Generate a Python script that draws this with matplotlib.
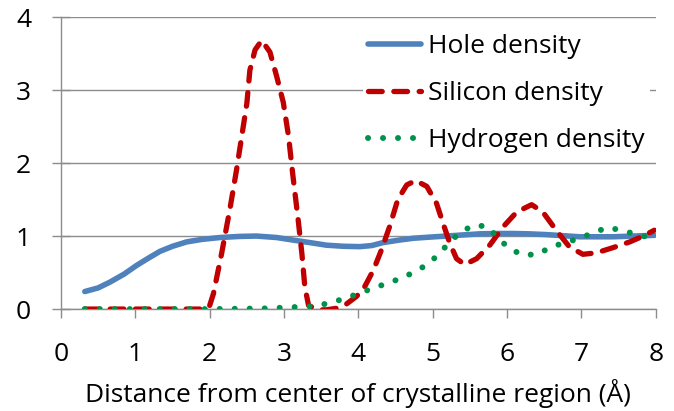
import matplotlib
matplotlib.use('Agg')
import matplotlib.pyplot as plt

# valeurs (courbes lissees d'Excel, points relevés assez serrés)
hole_x = [0.32, 0.5, 0.66, 0.85, 1.02, 1.18, 1.33, 1.5, 1.69, 1.9, 2.14, 2.4, 2.63, 2.9,
          3.12, 3.35, 3.57, 3.8, 4.02, 4.18, 4.33, 4.55, 4.74, 4.95, 5.18, 5.4, 5.63,
          5.85, 6.08, 6.3, 6.53, 6.75, 6.98, 7.2, 7.42, 7.7, 7.98]
hole_y = [0.24, 0.29, 0.37, 0.48, 0.60, 0.70, 0.79, 0.86, 0.92, 0.955, 0.98, 0.995, 1.0,
          0.98, 0.945, 0.91, 0.875, 0.86, 0.855, 0.87, 0.91, 0.945, 0.97, 0.985, 1.0,
          1.015, 1.03, 1.035, 1.035, 1.03, 1.02, 1.005, 0.99, 0.99, 0.99, 1.0, 1.01]

silicon_x = [0.32, 0.8, 1.3, 1.7, 1.96, 2.0, 2.05, 2.16, 2.27, 2.36, 2.43, 2.5, 2.54,
             2.61, 2.70, 2.81, 2.90, 2.99, 3.06, 3.12, 3.19, 3.24, 3.28, 3.33, 3.45,
             3.57, 3.70, 3.84, 3.97, 4.06, 4.20, 4.31, 4.42, 4.53, 4.65, 4.77, 4.92,
             5.05, 5.14, 5.23, 5.32, 5.43, 5.59, 5.77, 5.95, 6.13, 6.33, 6.48, 6.66,
             6.84, 7.02, 7.20, 7.42, 7.65, 7.83, 7.98]
silicon_y = [0.0, 0.0, 0.0, 0.0, 0.0, 0.05, 0.21, 0.76, 1.36, 1.90, 2.36, 2.82, 3.27,
             3.55, 3.68, 3.52, 3.19, 2.83, 2.37, 1.82, 1.22, 0.76, 0.30, 0.05, -0.01,
             -0.01, 0.01, 0.07, 0.17, 0.26, 0.53, 0.81, 1.13, 1.50, 1.70, 1.76, 1.68,
             1.45, 1.17, 0.90, 0.69, 0.61, 0.69, 0.88, 1.13, 1.33, 1.43, 1.33, 1.08,
             0.85, 0.75, 0.77, 0.84, 0.92, 1.0, 1.08]

hydrogen_x = [0.32, 1.0, 2.0, 2.8, 3.19, 3.4, 3.6, 3.8, 4.0, 4.18, 4.38, 4.57, 4.76,
              4.94, 5.09, 5.22, 5.37, 5.55, 5.74, 5.88, 6.03, 6.21, 6.41, 6.59, 6.78,
              6.98, 7.17, 7.36, 7.56, 7.76, 7.98]
hydrogen_y = [0.0, 0.0, 0.0, 0.01, 0.03, 0.04, 0.08, 0.14, 0.21, 0.28, 0.35, 0.42, 0.51,
              0.62, 0.76, 0.91, 1.05, 1.15, 1.13, 0.97, 0.83, 0.74, 0.75, 0.85, 0.91,
              0.97, 1.05, 1.12, 1.07, 1.02, 0.96]

x_ticks = [0, 1, 2, 3, 4, 5, 6, 7, 8]
y_ticks = [0, 1, 2, 3, 4]

plt.rcParams['font.family'] = ['Open Sans', 'DejaVu Sans']
gris = '#8c8c8c'
taille = 19

fig = plt.figure(figsize=(6.74, 4.11), dpi=100)
ax = fig.add_axes([0.0905, 0.248, 0.8825, 0.7106])

ax.plot(hole_x, hole_y, color='#4f81bd', lw=4.0, solid_capstyle='round',
        solid_joinstyle='round', label='Hole density', zorder=3)
ax.plot(silicon_x, silicon_y, color='#c00000', lw=3.8, dashes=(2.6, 2.2),
        dash_capstyle='round', dash_joinstyle='round', label='Silicon density', zorder=4)
ax.plot(hydrogen_x, hydrogen_y, color='#00914a', lw=4.3, dashes=(0.01, 2.5),
        dash_capstyle='round', label='Hydrogen density', zorder=5)

ax.set_xlim(0, 8)
ax.set_ylim(0, 4)
ax.set_xticks(x_ticks)
ax.set_yticks(y_ticks)
ax.tick_params(axis='both', width=1, color=gris, labelsize=taille, labelcolor='black')
ax.tick_params(axis='x', direction='out', length=6.5, pad=17)
# les ticks de l'axe y traversent l'axe dans Excel
ax.tick_params(axis='y', direction='inout', length=13, pad=15)

ax.grid(axis='y', color=gris, lw=1, zorder=0)
ax.set_axisbelow(True)
for cote in ['top', 'right']:
    ax.spines[cote].set_visible(False)
for cote in ['left', 'bottom']:
    ax.spines[cote].set_color(gris)
    ax.spines[cote].set_linewidth(1)

ax.set_xlabel('Distance from center of crystalline region (Å)', fontsize=taille, labelpad=9)

leg = ax.legend(loc='upper left', bbox_to_anchor=(0.508, 0.96), fontsize=taille,
                frameon=True, framealpha=1, edgecolor='none', fancybox=False,
                handlelength=2.0, handletextpad=0.27, labelspacing=0.83,
                borderpad=0.2, borderaxespad=0)

fig.savefig('out.png', dpi=100)
